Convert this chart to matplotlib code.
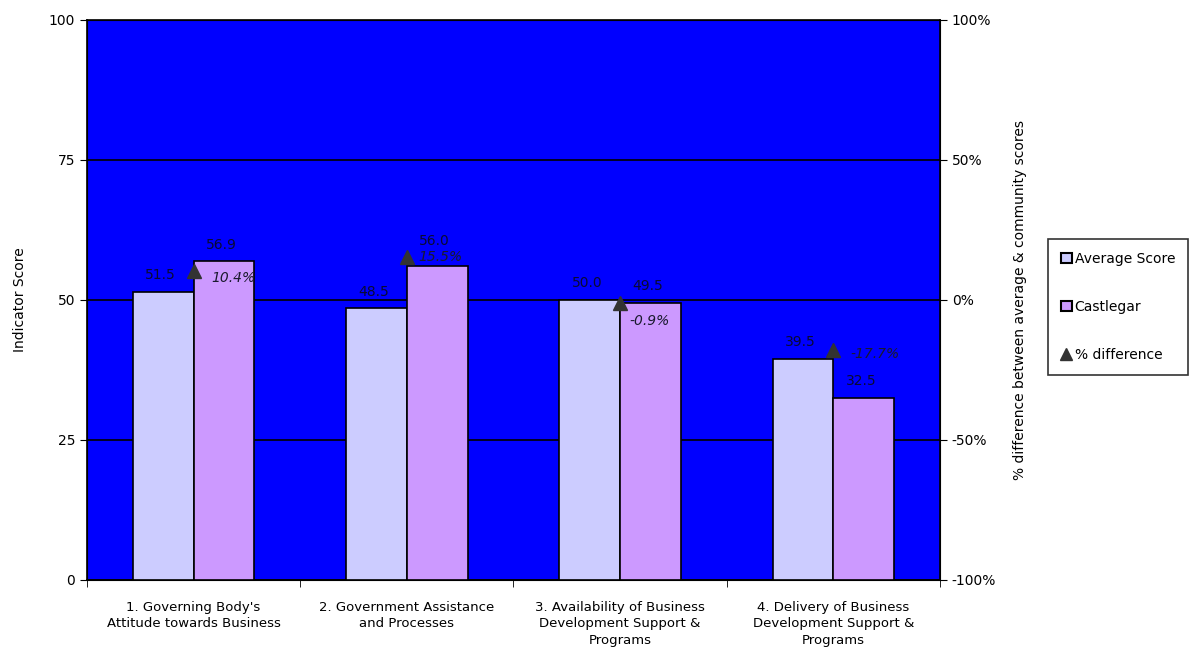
import matplotlib
matplotlib.use("Agg")
import matplotlib.pyplot as plt
import numpy as np
from matplotlib.lines import Line2D
from matplotlib.patches import Patch

categories = [
    "1. Governing Body's\nAttitude towards Business",
    "2. Government Assistance\nand Processes",
    "3. Availability of Business\nDevelopment Support &\nPrograms",
    "4. Delivery of Business\nDevelopment Support &\nPrograms",
]
average_score = [51.5, 48.5, 50.0, 39.5]
castlegar = [56.9, 56.0, 49.5, 32.5]
pct_difference = [10.4, 15.5, -0.9, -17.7]
left_ticks = [0, 25, 50, 75, 100]
right_ticks = [-100, -50, 0, 50, 100]

plt.rcParams['font.family'] = ['DejaVu Sans']

fig = plt.figure(figsize=(11.98, 6.62), dpi=100)
ax = fig.add_axes([0.0726, 0.1239, 0.712, 0.8459])
ax.set_facecolor("#0000FF")

x = np.arange(len(categories))
w = 0.285
ax.bar(x - w / 2, average_score, w, color="#CCCCFF", edgecolor="black", linewidth=1.2, zorder=3)
ax.bar(x + w / 2, castlegar, w, color="#CC99FF", edgecolor="black", linewidth=1.2, zorder=3)

# value labels above each bar; the second group's Castlegar label sits higher
# so it clears the percentage label beside the triangle
avg_label_rise = [7, 7, 7, 7]
cas_label_rise = [7, 13, 7, 7]
for xi, v, r in zip(x - w / 2, average_score, avg_label_rise):
    ax.annotate(f"{v:.1f}", (xi, v), xytext=(-2, r), textcoords="offset points",
                ha="center", va="bottom", fontsize=10, color="#0A0A33", zorder=5)
for xi, v, r in zip(x + w / 2, castlegar, cas_label_rise):
    ax.annotate(f"{v:.1f}", (xi, v), xytext=(-2, r), textcoords="offset points",
                ha="center", va="bottom", fontsize=10, color="#0A0A33", zorder=5)

ax.set_xlim(-0.5, len(categories) - 0.5)
ax.set_ylim(0, 100)
ax.set_yticks(left_ticks)
ax.yaxis.grid(True, color="black", linewidth=1.2, zorder=1)
ax.set_axisbelow(True)
ax.set_xticks(x)
ax.set_xticklabels(categories, fontsize=9.5, linespacing=1.35)
ax.tick_params(axis="x", length=0, pad=15)
ax.set_xticks(np.arange(-0.5, len(categories)), minor=True)
ax.tick_params(axis="x", which="minor", length=5, direction="out")
ax.tick_params(axis="y", length=5, direction="out", labelsize=10)
ax.set_ylabel("Indicator Score", fontsize=10, labelpad=16)
for s in ax.spines.values():
    s.set_linewidth(1.2)

ax2 = ax.twinx()
ax2.set_ylim(-100, 100)
ax2.set_yticks(right_ticks)
ax2.set_yticklabels([f"{t}%" for t in right_ticks])
ax2.tick_params(axis="y", length=5, direction="out", labelsize=10)
ax2.plot(x, pct_difference, linestyle="none", marker="^", markersize=10,
         color="#333333", zorder=6)
label_offsets = [(13, -5), (8, 0), (7, -13), (12, -3)]
for xi, v, off in zip(x, pct_difference, label_offsets):
    ax2.annotate(f"{v:.1f}%", (xi, v), xytext=off, textcoords="offset points",
                 ha="left", va="center", fontsize=10, style="italic", color="#1A1A2E", zorder=7)
ax2.set_ylabel("% difference between average & community scores", fontsize=10, labelpad=12)

handles = [
    Patch(facecolor="#CCCCFF", edgecolor="black", linewidth=1.5),
    Patch(facecolor="#CC99FF", edgecolor="black", linewidth=1.5),
    Line2D([], [], linestyle="none", marker="^", markersize=8, color="#333333"),
]
leg = fig.legend(handles, ["Average Score", "Castlegar", "% difference"],
                 loc="center left", bbox_to_anchor=(0.8745, 0.5365),
                 frameon=True, fancybox=False, fontsize=10,
                 handlelength=0.8, handleheight=0.8, handletextpad=0.2,
                 labelspacing=2.45, borderpad=0.95, borderaxespad=0)
leg.get_frame().set_edgecolor("black")
leg.get_frame().set_linewidth(1.2)

fig.savefig("out.png", dpi=100, facecolor="white")
